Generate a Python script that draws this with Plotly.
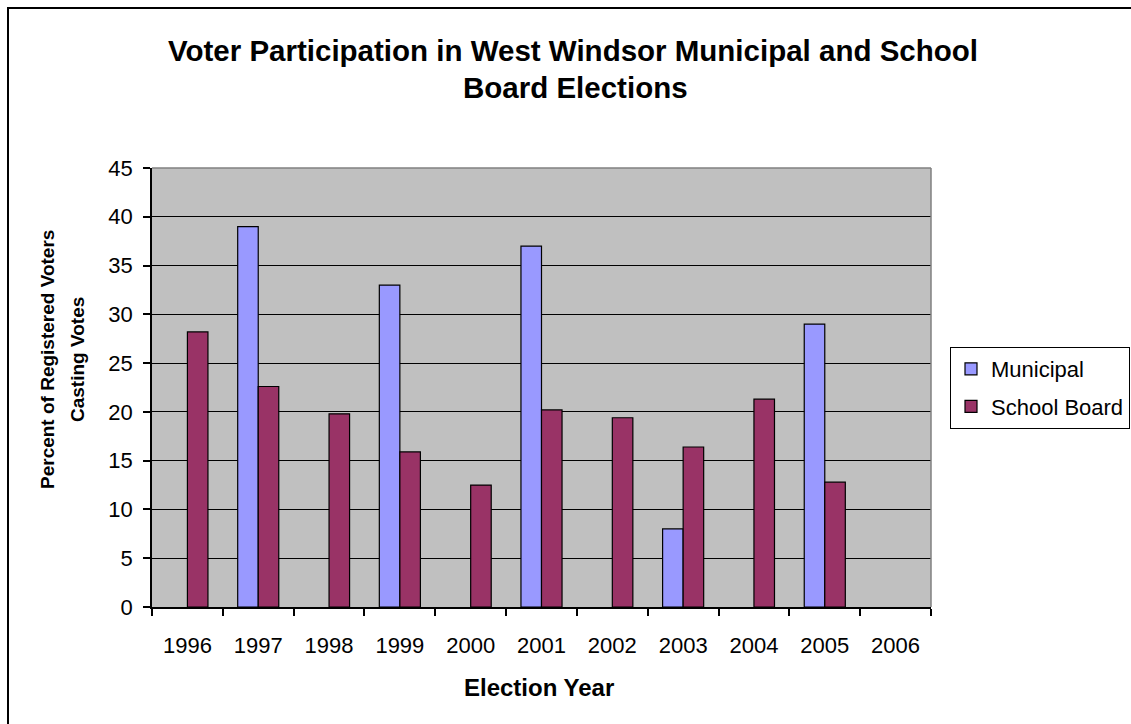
import plotly.graph_objects as go

# Dados
anos = ['1996', '1997', '1998', '1999', '2000', '2001', '2002', '2003', '2004', '2005', '2006']
municipal = [None, 39.0, None, 33.0, None, 37.0, None, 8.0, None, 29.0, None]
school_board = [28.2, 22.6, 19.8, 15.9, 12.5, 20.2, 19.4, 16.4, 21.3, 12.8, None]

FONTE = 'Liberation Sans, Arial, sans-serif'
W, H = 1131, 724
L, R, T, B = 152, 200, 168, 117
pw, ph = W - L - R, H - T - B


def px_x(x):
    return (x - L) / pw


def px_y(y):
    return (H - B - y) / ph


fig = go.Figure()

fig.add_trace(go.Bar(
    x=anos, y=municipal, name='Municipal', legendgroup='m',
    marker=dict(color='#9999FF', line=dict(color='black', width=1.2)),
))
fig.add_trace(go.Bar(
    x=anos, y=school_board, name='School Board', legendgroup='s',
    marker=dict(color='#993366', line=dict(color='black', width=1.2)),
))

fig.update_layout(
    width=W, height=H,
    margin=dict(l=L, r=R, t=T, b=B, autoexpand=False),
    paper_bgcolor='white',
    plot_bgcolor='#C0C0C0',
    barmode='group',
    bargap=0.42,
    bargroupgap=0,
    font=dict(family=FONTE, color='black', size=22),
    legend=dict(
        x=px_x(950), y=px_y(347), xanchor='left', yanchor='top',
        bgcolor='white', bordercolor='black', borderwidth=1,
        font=dict(size=22), tracegroupgap=6, traceorder='grouped',
    ),
)

fig.update_xaxes(
    type='category', tickson='boundaries',
    ticks='outside', ticklen=7, tickwidth=1.5, tickcolor='black',
    showline=True, linecolor='black', linewidth=1.5,
    showgrid=False, ticklabelstandoff=18,
    tickfont=dict(size=22),
)
fig.update_yaxes(
    range=[0, 45], dtick=5,
    ticks='outside', ticklen=7, tickwidth=1.5, tickcolor='black',
    showline=True, linecolor='black', linewidth=1.5,
    showgrid=True, gridcolor='black', gridwidth=1.2, zeroline=False,
    ticklabelstandoff=6, tickfont=dict(size=22),
)

# bordas cinza do plot (topo e direita)
fig.add_shape(type='line', xref='x domain', yref='y domain', x0=0, x1=1, y0=1, y1=1,
              line=dict(color='#808080', width=1.5))
fig.add_shape(type='line', xref='x domain', yref='y domain', x0=1, x1=1, y0=0, y1=1,
              line=dict(color='#808080', width=1.5))

# moldura externa
fig.add_shape(type='rect', xref='paper', yref='paper',
              x0=px_x(8), x1=px_x(1160), y0=px_y(760), y1=px_y(8),
              line=dict(color='black', width=2))

# titulo
fig.add_annotation(text='<b>Voter Participation in West Windsor Municipal and School</b>',
                   xref='paper', yref='paper', x=px_x(573), y=px_y(50),
                   showarrow=False, font=dict(size=29.5), xanchor='center', yanchor='middle')
fig.add_annotation(text='<b>Board Elections</b>',
                   xref='paper', yref='paper', x=px_x(575), y=px_y(88),
                   showarrow=False, font=dict(size=29.5), xanchor='center', yanchor='middle')

# titulos dos eixos
fig.add_annotation(text='<b>Percent of Registered Voters</b>',
                   xref='paper', yref='paper', x=px_x(47), y=px_y(360),
                   showarrow=False, textangle=-90, font=dict(size=19),
                   xanchor='center', yanchor='middle')
fig.add_annotation(text='<b>Casting Votes</b>',
                   xref='paper', yref='paper', x=px_x(77), y=px_y(360),
                   showarrow=False, textangle=-90, font=dict(size=19),
                   xanchor='center', yanchor='middle')
fig.add_annotation(text='<b>Election Year</b>',
                   xref='paper', yref='paper', x=px_x(539), y=px_y(687),
                   showarrow=False, font=dict(size=24),
                   xanchor='center', yanchor='middle')

# sem margem no body, para o grafico ocupar a janela inteira
fig.write_html('out.html', config={'displayModeBar': False},
               post_script="document.body.style.margin='0';document.body.style.overflow='hidden';")
